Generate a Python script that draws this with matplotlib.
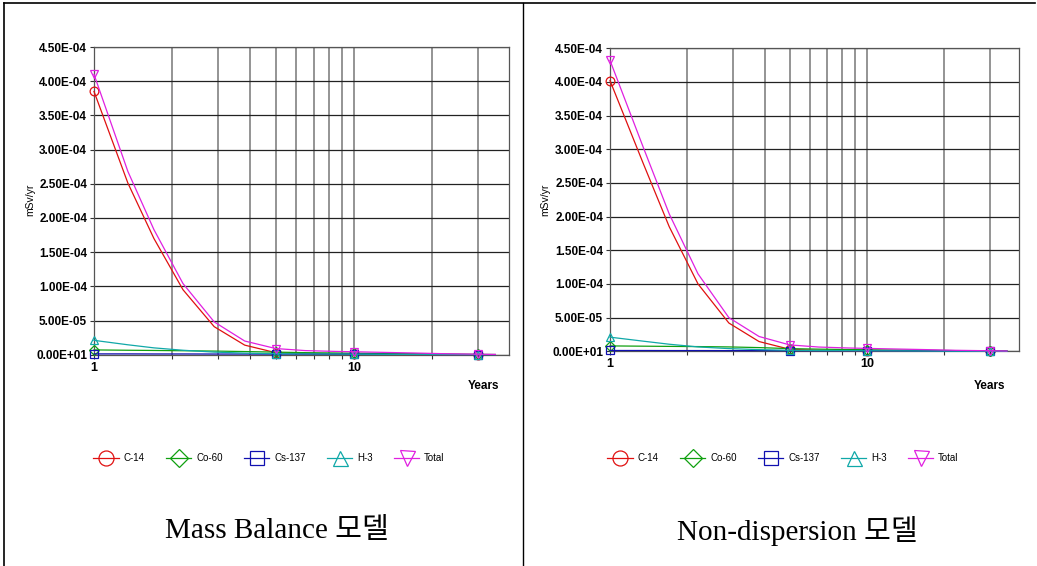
import numpy as np
import matplotlib.pyplot as plt
from matplotlib.lines import Line2D
from matplotlib.ticker import FixedLocator, LogLocator, NullFormatter

# years at which the doses were computed
years = [1, 1.35, 1.7, 2.2, 2.9, 3.8, 5, 6.5, 8.5, 10, 13, 17, 22, 30, 35]
mark_idx = [0, 6, 9, 13]   # markers at 1, 5, 10, 30

nuclides = ["C-14", "Co-60", "Cs-137", "H-3", "Total"]

# Mass Balance model (mSv/yr)
c14_mb = [3.85e-4, 2.51e-4, 1.70e-4, 9.5e-5, 4.1e-5, 1.4e-5, 3.0e-6, 1.4e-6, 9e-7, 7e-7, 5e-7, 3e-7, 1e-7, 5e-8, 2e-8]
co60_mb = [7.0e-6, 6.5e-6, 6.2e-6, 5.8e-6, 5.3e-6, 4.6e-6, 3.8e-6, 3.0e-6, 2.5e-6, 2.2e-6, 1.8e-6, 1.5e-6, 1.0e-6, 5e-7, 3e-7]
cs137_mb = [1.2e-6, 1.2e-6, 1.1e-6, 1.1e-6, 1.0e-6, 1.0e-6, 9e-7, 9e-7, 8e-7, 8e-7, 6e-7, 4e-7, 2e-7, 1e-7, 5e-8]
h3_mb = [2.1e-5, 1.45e-5, 1.0e-5, 6.5e-6, 3.8e-6, 2.3e-6, 1.5e-6, 1.2e-6, 1.0e-6, 8e-7, 6e-7, 4e-7, 2e-7, 1e-7, 5e-8]
total_mb = [4.10e-4, 2.68e-4, 1.83e-4, 1.04e-4, 4.8e-5, 2.0e-5, 9.0e-6, 6.0e-6, 4.8e-6, 4.3e-6, 3.4e-6, 2.5e-6, 1.5e-6, 8e-7, 4e-7]

# Non-dispersion model (mSv/yr)
c14_nd = [4.02e-4, 2.78e-4, 1.85e-4, 1.0e-4, 4.2e-5, 1.45e-5, 3.0e-6, 1.5e-6, 9e-7, 7e-7, 5e-7, 3e-7, 1e-7, 5e-8, 2e-8]
co60_nd = [8.0e-6, 7.6e-6, 7.3e-6, 7.0e-6, 6.5e-6, 5.5e-6, 4.0e-6, 3.2e-6, 2.6e-6, 2.3e-6, 1.9e-6, 1.5e-6, 1.0e-6, 5e-7, 3e-7]
cs137_nd = [1.2e-6, 1.2e-6, 1.1e-6, 1.1e-6, 1.0e-6, 1.0e-6, 9e-7, 9e-7, 8e-7, 8e-7, 6e-7, 4e-7, 2e-7, 1e-7, 5e-8]
h3_nd = [2.1e-5, 1.5e-5, 1.05e-5, 6.5e-6, 4.0e-6, 2.5e-6, 1.5e-6, 1.2e-6, 1.0e-6, 8e-7, 6e-7, 4e-7, 2e-7, 1e-7, 5e-8]
total_nd = [4.32e-4, 3.02e-4, 2.04e-4, 1.15e-4, 5.0e-5, 2.2e-5, 9.5e-6, 6.3e-6, 4.9e-6, 4.3e-6, 3.4e-6, 2.5e-6, 1.5e-6, 8e-7, 4e-7]

yticks = [0, 5e-5, 1e-4, 1.5e-4, 2e-4, 2.5e-4, 3e-4, 3.5e-4, 4e-4, 4.5e-4]
ytick_labels = ["0.00E+01", "5.00E-05", "1.00E-04", "1.50E-04", "2.00E-04",
                "2.50E-04", "3.00E-04", "3.50E-04", "4.00E-04", "4.50E-04"]

captions = ["Mass Balance 모델", "Non-dispersion 모델"]

colors = ["#e01010", "#10a010", "#1010b0", "#10a8a8", "#e020e0"]
markers = ["o", "D", "s", "^", "v"]
msizes = [9, 8, 8, 9, 9]

W, H = 1037, 566
fig = plt.figure(figsize=(W / 100, H / 100), dpi=100)

sans = ["Liberation Sans", "DejaVu Sans"]


def px_axes(x0, x1, y0, y1):
    return fig.add_axes([x0 / W, 1 - y1 / H, (x1 - x0) / W, (y1 - y0) / H])


panels = [
    dict(box=(94, 509, 47, 354.7), xmax=39.5, data=[c14_mb, co60_mb, cs137_mb, h3_mb, total_mb],
         ylab_x=30, years_x=483, leg_x=269, cap_x=277),
    dict(box=(610, 1019, 48.3, 351.3), xmax=39.0, data=[c14_nd, co60_nd, cs137_nd, h3_nd, total_nd],
         ylab_x=545, years_x=990, leg_x=783, cap_x=797),
]

for i, p in enumerate(panels):
    x0, x1, y0, y1 = p["box"]
    ax = px_axes(x0, x1, y0, y1)
    ax.set_xscale("log")
    ax.set_xlim(1, p["xmax"])
    ax.set_ylim(0, 4.5e-4)

    handles = []
    for name, vals, c, m, ms in zip(nuclides, p["data"], colors, markers, msizes):
        ax.plot(years, vals, color=c, lw=0.9, marker=m, markevery=mark_idx,
                ms=ms * 0.7, mfc="none", mec=c, mew=0.9, clip_on=False, zorder=3)
        handles.append(Line2D([], [], color=c, lw=0.9, marker=m, ms=ms * 1.2,
                              mfc="none", mec=c, mew=0.9))

    ax.yaxis.set_major_locator(FixedLocator(yticks))
    ax.set_yticklabels(ytick_labels, fontfamily=sans, fontsize=8.5, fontweight="bold")
    ax.xaxis.set_major_locator(FixedLocator([1, 10]))
    ax.set_xticklabels(["1", "10"], fontfamily=sans, fontsize=9, fontweight="bold")
    ax.xaxis.set_minor_locator(LogLocator(base=10, subs=np.arange(2, 10)))
    ax.xaxis.set_minor_formatter(NullFormatter())
    ax.tick_params(axis="both", which="both", length=3, width=0.8, pad=2, color="#333333")

    ax.grid(True, axis="y", color="#222222", lw=0.9)
    ax.grid(True, axis="x", which="both", color="#777777", lw=1.1)
    ax.set_axisbelow(True)
    for s in ax.spines.values():
        s.set_color("#555555")
        s.set_linewidth(0.9)

    fig.text(p["ylab_x"] / W, 1 - 200 / H, "mSv/yr", rotation=90, ha="center", va="center",
             family=sans, fontsize=7.5)
    fig.text(p["years_x"] / W, 1 - 386 / H, "Years", ha="center", va="center",
             family=sans, fontsize=8.5, fontweight="bold")

    fig.legend(handles=handles, labels=nuclides, loc="center",
               bbox_to_anchor=(p["leg_x"] / W, 1 - 458 / H), ncol=5, frameon=False,
               prop=dict(family=sans, size=7), handlelength=2.6, columnspacing=2.2,
               handletextpad=0.5)

    fig.text(p["cap_x"] / W, 1 - 531 / H, captions[i], ha="center", va="center",
             family=["Liberation Serif", "Noto Sans CJK KR"], fontsize=21)

# table borders
fig.add_artist(Line2D([4 / W, 4 / W], [0, 1 - 3 / H], transform=fig.transFigure, color="black", lw=1.2))
fig.add_artist(Line2D([4 / W, 1035 / W], [1 - 3 / H, 1 - 3 / H], transform=fig.transFigure, color="black", lw=1.2))
fig.add_artist(Line2D([523 / W, 523 / W], [0, 1 - 3 / H], transform=fig.transFigure, color="black", lw=1.0))

fig.savefig("out.png", dpi=100)
